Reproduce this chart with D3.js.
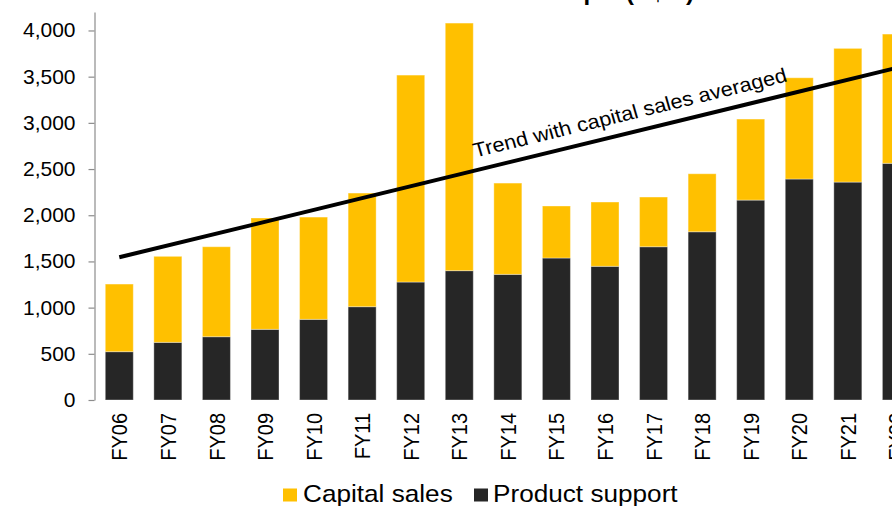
<!DOCTYPE html>
<html>
<head>
<meta charset="utf-8">
<script src="https://cdn.jsdelivr.net/npm/d3@7"></script>
<style>
  html, body { margin: 0; padding: 0; background: #fff; }
  svg { display: block; font-family: "Liberation Sans", Arial, sans-serif; }
</style>
</head>
<body>
<svg id="chart" width="892" height="506"></svg>
<script>
const categories = ["FY06","FY07","FY08","FY09","FY10","FY11","FY12","FY13","FY14","FY15","FY16","FY17","FY18","FY19","FY20","FY21","FY22"];
const productSupport = [523, 624, 685, 765, 873, 1010, 1277, 1400, 1360, 1537, 1447, 1659, 1821, 2164, 2392, 2359, 2562];
const capitalSales   = [732, 931, 974, 1205, 1107, 1230, 2240, 2680, 988, 563, 696, 538, 628, 877, 1096, 1447, 1399];
const trendStart = { cat: "FY06", value: 1545 };
const trendEnd   = { cat: "FY22", value: 3595 };
const yTicks = [0, 500, 1000, 1500, 2000, 2500, 3000, 3500, 4000];
const yMax = 4200;
const seriesNames = ["Capital sales", "Product support"];
const colors = { "Capital sales": "#FFC000", "Product support": "#262626" };
const titleText = "WesTrac revenue split (A$m)";
const trendLabel = "Trend with capital sales averaged";

const svg = d3.select("#chart");
const SX = 1.09; // horizontal glyph stretch seen in the reference

const step = 48.57;
const x = d3.scaleBand()
  .domain(categories)
  .range([95, 95 + categories.length * step])
  .paddingInner(0.4235)
  .paddingOuter(0.4235 / 2);

const y = d3.scaleLinear().domain([0, yMax]).range([400, 12]);

// data rows
const rows = categories.map((c, i) => ({
  cat: c,
  "Product support": productSupport[i],
  "Capital sales": capitalSales[i]
}));
const stack = d3.stack().keys(["Product support", "Capital sales"]);
const stacked = stack(rows);

// title (mostly cropped at top)
svg.append("text")
  .attr("x", 694).attr("y", 0)
  .attr("text-anchor", "end")
  .attr("font-size", 22).attr("font-weight", "bold")
  .attr("fill", "#000")
  .attr("transform", `translate(694,0) scale(${SX},1) translate(-694,0)`)
  .text(titleText);

// bars
const g = svg.append("g");
g.selectAll("g.series")
  .data(stacked)
  .join("g")
  .attr("class", "series")
  .attr("fill", d => colors[d.key])
  .selectAll("rect")
  .data(d => d)
  .join("rect")
  .attr("x", d => x(d.data.cat))
  .attr("width", x.bandwidth())
  .attr("y", d => y(d[1]))
  .attr("height", d => y(d[0]) - y(d[1]))
  .attr("stroke", "#ffffff")
  .attr("stroke-opacity", 0.35)
  .attr("stroke-width", 1);

// y axis
const yAxis = d3.axisLeft(y)
  .tickValues(yTicks)
  .tickFormat(d3.format(","))
  .tickSize(6)
  .tickSizeOuter(0)
  .tickPadding(13);
const ya = svg.append("g").attr("transform", "translate(94.5,0)").call(yAxis);
ya.select(".domain").attr("stroke", "#8c8c8c").attr("stroke-width", 1.2);
ya.selectAll(".tick line").attr("stroke", "#8c8c8c").attr("stroke-width", 1.2);
ya.selectAll(".tick text")
  .attr("font-size", 20)
  .attr("font-family", "'Liberation Sans', Arial, sans-serif")
  .attr("fill", "#000")
  .attr("transform", "translate(-19,0) scale(1.05,1) translate(19,0)");

// x labels (rotated)
svg.append("g").selectAll("text")
  .data(categories)
  .join("text")
  .attr("transform", d => `translate(${x(d) + x.bandwidth() / 2},413) scale(1.12,1) rotate(-90)`)
  .attr("text-anchor", "end")
  .attr("dy", "0.36em")
  .attr("font-size", 20)
  .attr("fill", "#000")
  .text(d => d);

// trend line
const cx = c => x(c) + x.bandwidth() / 2;
const tx0 = cx(trendStart.cat), ty0 = y(trendStart.value);
const tx1 = cx(trendEnd.cat), ty1 = y(trendEnd.value);
svg.append("line")
  .attr("x1", tx0).attr("y1", ty0)
  .attr("x2", tx1).attr("y2", ty1)
  .attr("stroke", "#000")
  .attr("stroke-width", 4);

// trend label along the line
const slope = (ty1 - ty0) / (tx1 - tx0);
const lx = cx("FY13") + 16;
const ly = ty0 + slope * (lx - tx0) - 13;
const localAngle = Math.atan(-slope * SX) * 180 / Math.PI;
svg.append("text")
  .attr("transform", `translate(${lx},${ly}) scale(${SX},1) rotate(${-localAngle})`)
  .attr("font-size", 20)
  .attr("fill", "#000")
  .text(trendLabel);

// legend
const legend = svg.append("g");
const legendItems = [
  { name: seriesNames[0], sx: 283, tx: 303 },
  { name: seriesNames[1], sx: 474, tx: 493 }
];
legendItems.forEach(it => {
  legend.append("rect")
    .attr("x", it.sx).attr("y", 488.5)
    .attr("width", 14).attr("height", 13)
    .attr("fill", colors[it.name]);
  legend.append("text")
    .attr("x", it.tx).attr("y", 502)
    .attr("font-size", 24)
    .attr("fill", "#000")
    .attr("transform", `translate(${it.tx},0) scale(${SX},1) translate(${-it.tx},0)`)
    .text(it.name);
});
</script>
</body>
</html>
